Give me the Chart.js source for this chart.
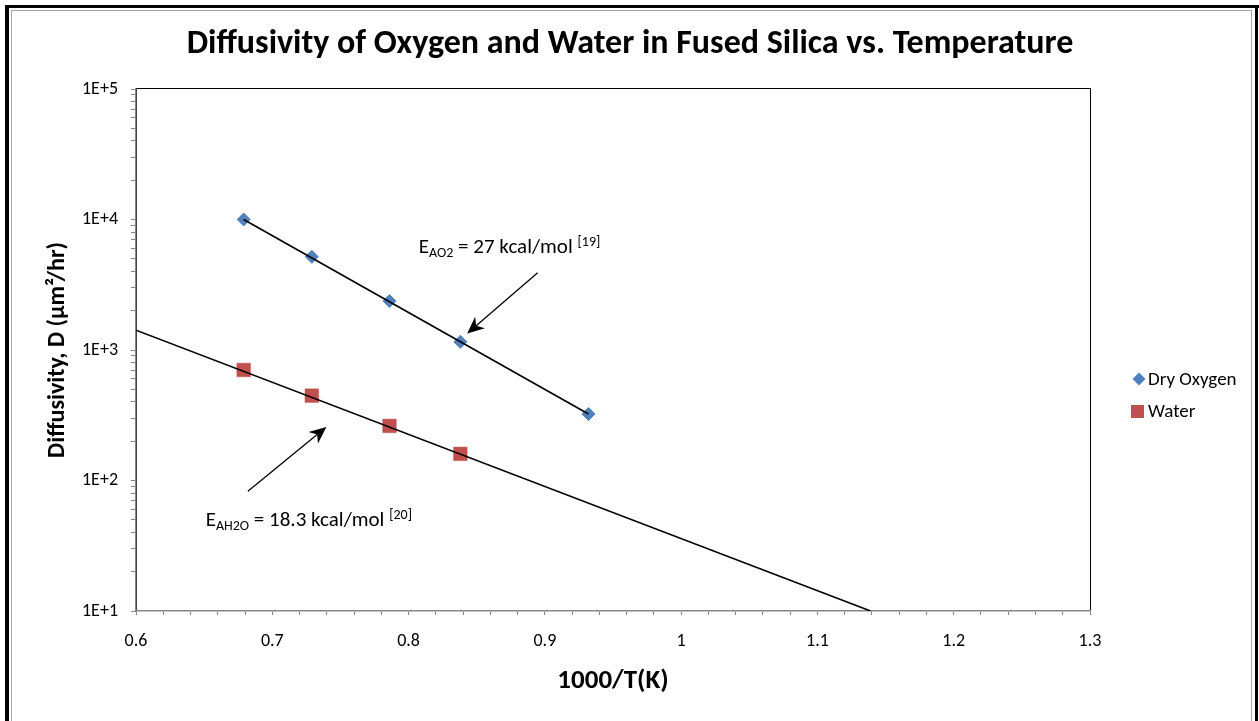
<!DOCTYPE html>
<html>
<head>
<meta charset="utf-8">
<script src="https://cdn.jsdelivr.net/npm/chart.js@4.4.1/dist/chart.umd.min.js"></script>
<style>
  html, body { margin: 0; padding: 0; background: #fff; }
  #wrap { width: 1259px; height: 721px; }
</style>
</head>
<body>
<div id="wrap"><canvas id="mycanvas" width="1259" height="721"></canvas></div>
<script>
// 1000/T values and measured diffusivities (um^2/hr)
var oxygenX = [0.679, 0.729, 0.786, 0.838, 0.932];
var oxygenD = [10000, 5180, 2370, 1155, 323];
var waterX = [0.679, 0.729, 0.786, 0.838];
var waterD = [703, 447, 262, 160];

// exponential trendlines (straight on the log axis) - end points only
var oxygenFitX = [0.679, 0.932];
var oxygenFitD = [10000, 323];
var waterFitX = [0.6, 1.139];
var waterFitD = [1420, 10];

var seriesNames = ['Dry Oxygen', 'Water'];
var seriesColors = ['#4F81BD', '#C0504D'];

var xTicks = [0.6, 0.7, 0.8, 0.9, 1.0, 1.1, 1.2, 1.3];
var xTickLabels = ['0.6', '0.7', '0.8', '0.9', '1', '1.1', '1.2', '1.3'];
var yTicks = [10, 100, 1000, 10000, 100000];
var yTickLabels = ['1E+1', '1E+2', '1E+3', '1E+4', '1E+5'];

var chartTitle = 'Diffusivity of Oxygen and Water in Fused Silica vs. Temperature';
var xTitle = '1000/T(K)';
var yTitle = 'Diffusivity, D (\u00B5m\u00B2/hr)';

// activation energy notes: text pieces + arrow (tail -> head) in data units
var notes = [
  { sub: 'AO2', rest: ' = 27 kcal/mol ', sup: '[19]', x: 0.8075, y: 5500,
    from: [0.8947, 3914], to: [0.8430, 1335] },
  { sub: 'AH2O', rest: ' = 18.3 kcal/mol ', sup: '[20]', x: 0.6511, y: 44.7,
    from: [0.6821, 82.8], to: [0.7397, 257] }
];

var FONT = 'Carlito, Lato, sans-serif';
var AXIS_GREY = '#868686';

function pts(xs, ys) {
  return xs.map(function(x, i) { return { x: x, y: ys[i] }; });
}

function labelFor(v, list, labels) {
  for (var i = 0; i < list.length; i++) {
    if (Math.abs(v - list[i]) < list[i] * 1e-6) return labels[i];
  }
  return '';
}

// minor tick positions
var xMinor = [];
for (var k = 0; k <= 35; k++) xMinor.push(Math.round((0.6 + k * 0.02) * 1000) / 1000);
var yMinor = [];
for (var e = 1; e <= 4; e++) {
  for (var m = 1; m <= 9; m++) yMinor.push(m * Math.pow(10, e));
}
yMinor.push(100000);

function drawArrow(ctx, x1, y1, x2, y2) {
  var ang = Math.atan2(y2 - y1, x2 - x1);
  var L = 17, W = 7.5;
  var bx = x2 - Math.cos(ang) * L * 0.7, by = y2 - Math.sin(ang) * L * 0.7;
  ctx.beginPath();
  ctx.moveTo(x1, y1);
  ctx.lineTo(bx, by);
  ctx.stroke();
  var cx = x2 - Math.cos(ang) * L, cy = y2 - Math.sin(ang) * L;
  ctx.beginPath();
  ctx.moveTo(x2, y2);
  ctx.lineTo(cx - Math.sin(ang) * W, cy + Math.cos(ang) * W);
  ctx.lineTo(bx, by);
  ctx.lineTo(cx + Math.sin(ang) * W, cy - Math.cos(ang) * W);
  ctx.closePath();
  ctx.fill();
}

var decorPlugin = {
  id: 'decor',
  beforeDraw: function(chart) {
    var ctx = chart.ctx, a = chart.chartArea;
    ctx.save();
    ctx.fillStyle = '#fff';
    ctx.fillRect(0, 0, chart.width, chart.height);
    // outer frame
    ctx.fillStyle = '#000';
    ctx.fillRect(5, 5, 1254, 3);
    ctx.fillRect(5, 5, 4, 716);
    ctx.fillRect(1255, 5, 3, 716);
    ctx.strokeStyle = '#a6a6a6';
    ctx.lineWidth = 1;
    ctx.strokeRect(11.5, 10.5, 1240, 720);
    // plot area border
    ctx.strokeStyle = '#000';
    ctx.strokeRect(a.left + 0.5, a.top - 0.5, a.right - a.left, a.bottom - a.top);
    ctx.restore();
  },
  afterDraw: function(chart) {
    var ctx = chart.ctx, a = chart.chartArea;
    var xs = chart.scales.x, ys = chart.scales.y;
    ctx.save();
    ctx.fillStyle = '#000';
    ctx.textBaseline = 'alphabetic';

    // title
    ctx.textAlign = 'center';
    ctx.font = 'bold 34px ' + FONT;
    ctx.fillText(chartTitle, 630, 53);

    // axis titles
    ctx.font = 'bold 27px ' + FONT;
    ctx.fillText(xTitle, (a.left + a.right) / 2, 688);
    ctx.save();
    ctx.translate(64, (a.top + a.bottom) / 2);
    ctx.rotate(-Math.PI / 2);
    ctx.font = 'bold 24px ' + FONT;
    ctx.fillText(yTitle, 0, 0);
    ctx.restore();

    // notes with arrows
    ctx.textAlign = 'left';
    ctx.strokeStyle = '#000';
    ctx.lineWidth = 1.3;
    notes.forEach(function(n) {
      var x = xs.getPixelForValue(n.x), y = ys.getPixelForValue(n.y);
      ctx.font = '21px ' + FONT;
      ctx.fillText('E', x, y);
      x += ctx.measureText('E').width;
      ctx.font = '14px ' + FONT;
      ctx.fillText(n.sub, x, y + 4);
      x += ctx.measureText(n.sub).width;
      ctx.font = '21px ' + FONT;
      ctx.fillText(n.rest, x, y);
      x += ctx.measureText(n.rest).width;
      ctx.font = '14px ' + FONT;
      ctx.fillText(n.sup, x, y - 7);
      drawArrow(ctx,
        xs.getPixelForValue(n.from[0]), ys.getPixelForValue(n.from[1]),
        xs.getPixelForValue(n.to[0]), ys.getPixelForValue(n.to[1]));
    });

    // legend
    var lx = a.right + 49, ly = 379;
    ctx.font = '19px ' + FONT;
    ctx.textBaseline = 'middle';
    ctx.fillStyle = seriesColors[0];
    ctx.beginPath();
    ctx.moveTo(lx, ly - 6.5); ctx.lineTo(lx + 6.5, ly); ctx.lineTo(lx, ly + 6.5); ctx.lineTo(lx - 6.5, ly);
    ctx.closePath();
    ctx.fill();
    ctx.fillStyle = seriesColors[1];
    ctx.fillRect(lx - 8, ly + 26, 13, 13);
    ctx.fillStyle = '#000';
    ctx.fillText(seriesNames[0], lx + 9, ly + 1);
    ctx.fillText(seriesNames[1], lx + 9, ly + 33);
    ctx.restore();
  }
};

var ctx = document.getElementById('mycanvas');

var chart = new Chart(ctx, {
  type: 'scatter',
  data: {
    datasets: [
      {
        label: 'Dry Oxygen trend',
        data: pts(oxygenFitX, oxygenFitD),
        showLine: true,
        borderColor: '#000',
        borderWidth: 1.6,
        pointRadius: 0,
        order: 0
      },
      {
        label: 'Water trend',
        data: pts(waterFitX, waterFitD),
        showLine: true,
        borderColor: '#000',
        borderWidth: 1.6,
        pointRadius: 0,
        order: 0
      },
      {
        label: seriesNames[0],
        data: pts(oxygenX, oxygenD),
        pointStyle: 'rectRot',
        pointRadius: 6.5,
        backgroundColor: seriesColors[0],
        borderColor: seriesColors[0],
        borderWidth: 1,
        order: 1
      },
      {
        label: seriesNames[1],
        data: pts(waterX, waterD),
        pointStyle: 'rect',
        pointRadius: 9.6,
        backgroundColor: seriesColors[1],
        borderColor: seriesColors[1],
        borderWidth: 0.5,
        order: 1
      }
    ]
  },
  options: {
    responsive: false,
    animation: false,
    layout: { padding: { left: 36, right: 169, top: 89, bottom: 50 } },
    plugins: {
      legend: { display: false },
      title: { display: false },
      tooltip: { enabled: false }
    },
    scales: {
      x: {
        type: 'linear',
        min: 0.6,
        max: 1.3,
        afterFit: function(s) { s.height = 60; },
        afterBuildTicks: function(s) {
          s.ticks = xMinor.map(function(v) { return { value: v }; });
        },
        ticks: {
          autoSkip: false,
          maxRotation: 0,
          padding: 16,
          color: '#000',
          font: { family: FONT, size: 18 },
          callback: function(v) { return labelFor(v, xTicks, xTickLabels); }
        },
        grid: { drawOnChartArea: false, tickLength: 4, color: AXIS_GREY, lineWidth: 1 },
        border: { color: AXIS_GREY, width: 1.5 }
      },
      y: {
        type: 'logarithmic',
        min: 10,
        max: 100000,
        afterFit: function(s) { s.width = 100; },
        afterBuildTicks: function(s) {
          s.ticks = yMinor.map(function(v) { return { value: v }; });
        },
        ticks: {
          autoSkip: false,
          padding: 13,
          color: '#000',
          font: { family: FONT, size: 18 },
          callback: function(v) { return labelFor(v, yTicks, yTickLabels); }
        },
        grid: { drawOnChartArea: false, tickLength: 5, color: AXIS_GREY, lineWidth: 1 },
        border: { color: AXIS_GREY, width: 1.5 }
      }
    }
  },
  plugins: [decorPlugin]
});
</script>
</body>
</html>
